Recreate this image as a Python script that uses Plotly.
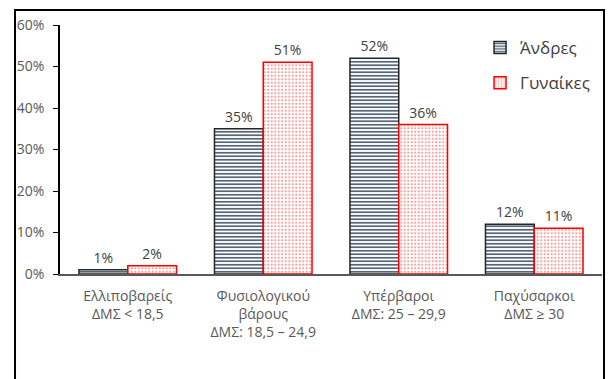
import plotly.graph_objects as go

categories = ["Ελλιποβαρείς<br>ΔΜΣ < 18,5", "Φυσιολογικού<br>βάρους<br>ΔΜΣ: 18,5 – 24,9",
              "Υπέρβαροι<br>ΔΜΣ: 25 – 29,9", "Παχύσαρκοι<br>ΔΜΣ ≥ 30"]
men = [1, 35, 52, 12]
women = [2, 51, 36, 11]
series_names = ["Άνδρες", "Γυναίκες"]
tick_vals = [0, 10, 20, 30, 40, 50, 60]
tick_text = ["0%", "10%", "20%", "30%", "40%", "50%", "60%"]

FONT = "Open Sans"
fig = go.Figure()
fig.add_trace(go.Bar(
    x=categories, y=men, name=series_names[0], legendgroup="m",
    text=[f"{v}%" for v in men], textposition="outside",
    textfont=dict(size=14, color="#404040", family=FONT),
    marker=dict(color="white", line=dict(color="#262626", width=1.5),
                pattern=dict(shape="-", fgcolor="#44546A", bgcolor="white", size=3.5, solidity=0.45, fillmode="replace")),
    cliponaxis=False,
))
fig.add_trace(go.Bar(
    x=categories, y=women, name=series_names[1], legendgroup="w",
    text=[f"{v}%" for v in women], textposition="outside",
    textfont=dict(size=14, color="#404040", family=FONT),
    marker=dict(color="white", line=dict(color="#FF0000", width=1.5),
                pattern=dict(shape=".", fgcolor="#F4A0A0", bgcolor="white", size=3.5, solidity=0.3, fillmode="replace")),
    cliponaxis=False,
))

fig.update_layout(
    width=612, height=379,
    margin=dict(l=60, r=10, t=25, b=105),
    paper_bgcolor="white", plot_bgcolor="white",
    barmode="group", bargap=0.28, bargroupgap=0,
    font=dict(family=FONT, color="#595959", size=13),
    showlegend=True,
    legend=dict(x=0.775, y=0.98, xanchor="left", yanchor="top",
                font=dict(size=17, color="#404040", family=FONT),
                bgcolor="rgba(0,0,0,0)", tracegroupgap=10, itemwidth=30),
    xaxis=dict(showline=True, linecolor="#595959", linewidth=1.5, ticks="",
               tickfont=dict(size=14, color="#595959"), showgrid=False,
               ticklabelstandoff=8),
    yaxis=dict(range=[0, 60], tickvals=tick_vals, ticktext=tick_text,
               showline=True, linecolor="black", linewidth=1.5,
               ticks="outside", ticklen=5, tickcolor="black", showgrid=False,
               tickfont=dict(size=14, color="#595959"), zeroline=False,
               ticklabelstandoff=6),
    shapes=[dict(type="rect", xref="paper", yref="paper",
                 x0=-0.083, x1=1.0037, y0=-0.5, y1=1.06,
                 line=dict(color="black", width=2), fillcolor="rgba(0,0,0,0)", layer="above")],
)
fig.write_html("out.html", config={"displayModeBar": False},
               post_script="document.body.style.margin='0';")
